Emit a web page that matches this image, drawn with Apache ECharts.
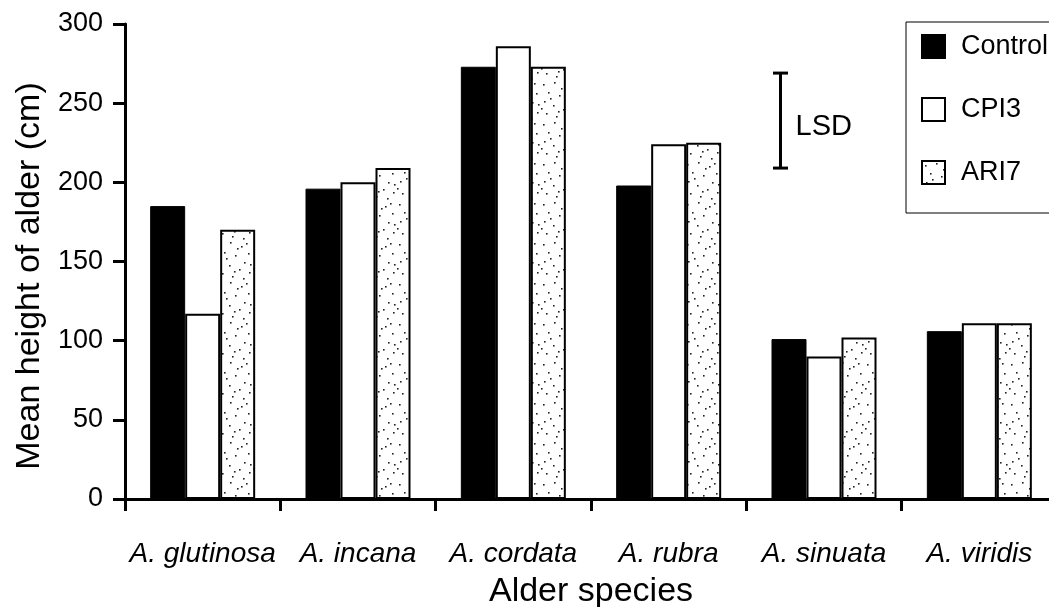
<!DOCTYPE html>
<html><head><meta charset="utf-8">
<script src="https://cdn.jsdelivr.net/npm/echarts@6/dist/echarts.min.js"></script>
<style>html,body{margin:0;padding:0;background:#fff}#c{width:1049px;height:607px}</style>
</head><body><div id="c"></div>
<script>
const categories = ['A. glutinosa', 'A. incana', 'A. cordata', 'A. rubra', 'A. sinuata', 'A. viridis'];
const seriesNames = ['Control', 'CPI3', 'ARI7'];
const controlValues = [185, 196, 273, 198, 101, 106];
const cpi3Values = [117, 200, 286, 224, 90, 111];
const ari7Values = [170, 209, 273, 225, 102, 111];
const yTicks = [0, 50, 100, 150, 200, 250, 300];
const lsdRange = [209, 269];
const lsdLabel = 'LSD';
const xTitle = 'Alder species';
const yTitle = 'Mean height of alder (cm)';

const FONT = '"Liberation Sans", Arial, sans-serif';
const LSD_POS = 3.72; // category-index position of the LSD bar

function dotPattern() {
  const c = document.createElement('canvas');
  c.width = 36; c.height = 40;
  const g = c.getContext('2d');
  g.fillStyle = '#fff'; g.fillRect(0, 0, 36, 40);
  g.fillStyle = '#222';
  const dots = [[3,4],[14,2],[25,6],[32,13],[8,12],[19,15],[28,22],[4,21],[13,25],[23,29],[33,32],[6,33],[16,36],[27,38],[10,18],[21,8],[30,3],[1,28],[18,31],[34,24]];
  dots.forEach(d => g.fillRect(d[0], d[1], 1.6, 1.6));
  return c;
}

const chart = echarts.init(document.getElementById('c'), null, {renderer: 'canvas'});
const barCommon = {type: 'bar', barWidth: 35, barGap: '0%', barCategoryGap: '0%'};
chart.setOption({
  animation: false,
  backgroundColor: '#fff',
  textStyle: {fontFamily: FONT, color: '#000'},
  grid: {left: 125, right: -8, top: 24, bottom: 108, containLabel: false, outerBoundsMode: 'none'},
  legend: {
    data: seriesNames, orient: 'vertical', left: 906, top: 22,
    padding: [11, 20, 27, 15], itemGap: 36, itemWidth: 23, itemHeight: 23,
    borderColor: '#000', borderWidth: 1, backgroundColor: '#fff',
    icon: 'rect',
    textStyle: {fontSize: 27, fontFamily: FONT, color: '#000', padding: [0, 0, 0, 11]}
  },
  xAxis: {
    type: 'category', data: categories,
    axisLine: {lineStyle: {color: '#000', width: 3}},
    axisTick: {show: true, length: 12, lineStyle: {color: '#000', width: 3}},
    axisLabel: {fontSize: 28, fontStyle: 'italic', fontFamily: FONT, color: '#000', margin: 41, interval: 0},
    name: xTitle, nameLocation: 'middle', nameGap: 76,
    nameTextStyle: {fontSize: 34, fontFamily: FONT, color: '#000'}
  },
  yAxis: {
    type: 'value', min: yTicks[0], max: yTicks[yTicks.length - 1], interval: yTicks[1] - yTicks[0],
    splitLine: {show: false},
    axisLine: {show: true, lineStyle: {color: '#000', width: 3}},
    axisTick: {show: true, length: 12, lineStyle: {color: '#000', width: 3}},
    axisLabel: {fontSize: 27, fontFamily: FONT, color: '#000', margin: 22},
    name: yTitle, nameLocation: 'middle', nameGap: 78,
    nameTextStyle: {fontSize: 34, fontFamily: FONT, color: '#000', padding: [0, 29, 0, 0]}
  },
  series: [
    Object.assign({}, barCommon, {name: seriesNames[0], data: controlValues,
      itemStyle: {color: '#000', borderColor: '#000', borderWidth: 1}}),
    Object.assign({}, barCommon, {name: seriesNames[1], data: cpi3Values,
      itemStyle: {color: '#fff', borderColor: '#000', borderWidth: 2}}),
    Object.assign({}, barCommon, {name: seriesNames[2], data: ari7Values,
      itemStyle: {color: {image: dotPattern(), repeat: 'repeat'}, borderColor: '#000', borderWidth: 2}}),
    {
      type: 'custom', name: lsdLabel, data: [[lsdRange[0], lsdRange[1]]],
      encode: {y: [0, 1]}, silent: true,
      renderItem: function (params, api) {
        const a = api.coord([3, api.value(0)]);
        const b = api.coord([4, api.value(0)]);
        const x = a[0] + (b[0] - a[0]) * (LSD_POS - 3);
        const yLo = a[1];
        const yHi = api.coord([3, api.value(1)])[1];
        const s = {stroke: '#000', lineWidth: 3};
        return {type: 'group', children: [
          {type: 'line', shape: {x1: x, y1: yLo, x2: x, y2: yHi}, style: s},
          {type: 'line', shape: {x1: x - 7.5, y1: yLo, x2: x + 7.5, y2: yLo}, style: s},
          {type: 'line', shape: {x1: x - 7.5, y1: yHi, x2: x + 7.5, y2: yHi}, style: s},
          {type: 'text', x: x + 15, y: (yLo + yHi) / 2 + 6,
           style: {text: lsdLabel, fill: '#000', font: '29px ' + FONT, verticalAlign: 'middle', align: 'left'}}
        ]};
      }
    }
  ]
});
</script></body></html>
